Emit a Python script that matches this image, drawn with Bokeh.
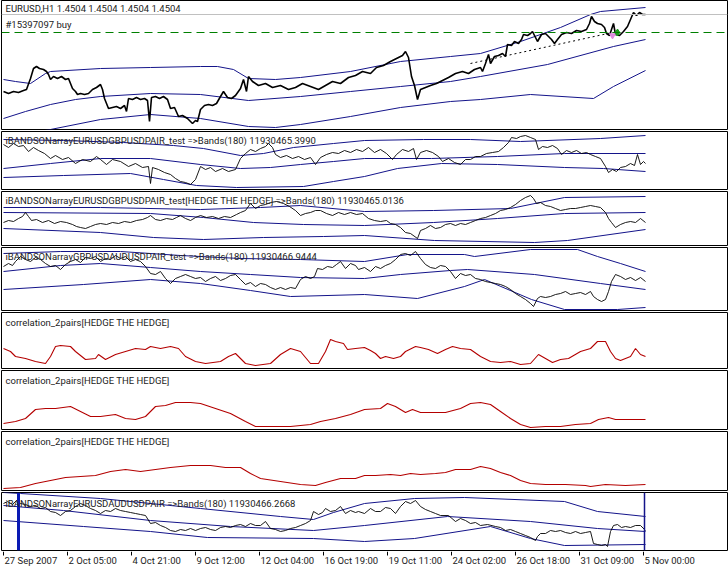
from bokeh.plotting import figure
from bokeh.layouts import column
from bokeh.models import Range1d, Label, Span
from bokeh.embed import file_html
from bokeh.resources import INLINE
from bokeh.core.properties import value

# ---------------- data (bar index = hourly bar, value = indicator units) -------------
tick_bars = [0, 64, 128, 192, 256, 320, 384, 448, 512, 576, 640]
tick_labels = ["27 Sep 2007", "2 Oct 05:00", "4 Oct 21:00", "9 Oct 12:00", "12 Oct 04:00",
               "16 Oct 19:00", "19 Oct 11:00", "24 Oct 02:00", "26 Oct 18:00",
               "31 Oct 09:00", "5 Nov 00:00"]

titles = ["EURUSD,H1  1.4504 1.4504 1.4504 1.4504",
          "iBANDSONarrayEURUSDGBPUSDPAIR_test  =>Bands(180) 11930465.3990",
          "iBANDSONarrayEURUSDGBPUSDPAIR_test[HEDGE THE HEDGE]  =>Bands(180) 11930465.0136",
          "iBANDSONarrayGBPUSDAUDUSDPAIR_test  =>Bands(180) 11930466.9444",
          "correlation_2pairs[HEDGE THE HEDGE]",
          "correlation_2pairs[HEDGE THE HEDGE]",
          "correlation_2pairs[HEDGE THE HEDGE]",
          "iBANDSONarrayEURUSDAUDUSDPAIR  =>Bands(180) 11930466.2668"]
order_text = "#15397097 buy"

# Panel 1: EURUSD H1 price and bands
p1_price = [(0,38),(5,36),(10,38),(15,37),(20,39),(23,40),(27,51),(30,61),(33,63),(36,61),(40,60),
            (43,58),(45,55),(47,50),(50,53),(54,51),(58,53),(62,50),(65,51),(69,41),(72,38),(74,35),
            (77,36),(81,35),(85,36),(89,40),(93,42),(97,45),(99,40),(101,31),(105,21),(109,22),(113,23),
            (117,21),(121,24),(123,18),(125,31),(129,30),(133,32),(137,30),(141,31),(144,29),(146,8),
            (148,32),(152,33),(156,31),(160,33),(164,30),(167,21),(171,22),(175,13),(179,14),(184,11),
            (187,8),(189,6),(192,9),(194,8),(197,20),(201,24),(205,25),(209,24),(213,26),(217,33),
            (220,38),(224,32),(228,31),(232,34),(237,41),(240,50),(243,38),(245,53),(249,48),(255,44),
            (262,46),(269,42),(277,44),(285,40),(292,42),(299,46),(307,43),(315,40),(322,44),(329,48),
            (337,46),(345,52),(352,54),(359,58),(367,56),(373,62),(380,64),(387,68),(393,71),(399,74),
            (402,78),(405,72),(408,53),(411,44),(414,30),(417,40),(422,42),(427,44),(433,46),(439,49),
            (445,52),(452,56),(459,58),(465,56),(471,60),(477,62),(479,58),(482,66),(485,75),(487,66),
            (491,73),(495,74),(499,76),(502,73),(504,85),(508,84),(511,88),(515,86),(518,90),(520,95),
            (524,94),(527,96),(529,98),(532,92),(534,88),(538,95),(542,96),(545,93),(548,90),(551,86),
            (554,90),(558,95),(563,97),(568,96),(573,99),(578,98),(583,100),(586,106),(588,113),
            (591,108),(594,106),(598,105),(601,102),(603,96),(606,94),(608,100),(610,106),(612,95),
            (616,94),(620,98),(624,103),(627,110),(630,117),(633,114),(636,117),(639,115),(642,115)]
p1_upper = [(0,50),(12,48),(27,46),(42,56),(47,58),(97,61),(147,62),(197,63),(214,63),(230,60),
            (245,51),(272,50),(297,52),(347,58),(397,68),(447,73),(477,76),(517,88),(557,102),
            (587,115),(597,118),(642,122)]
p1_middle = [(0,11),(22,18),(47,25),(72,30),(97,33),(147,36),(197,35),(245,29),(297,33),(347,38),
             (397,43),(447,48),(477,53),(544,65),(610,83),(642,90)]
p1_lower = [(0,-8),(47,0),(97,10),(147,15),(197,11),(245,3),(272,2),(297,5),(347,13),(397,22),
            (447,28),(477,30),(527,35),(590,31),(610,43),(642,59)]
p1_bid = 115
p1_order = 97
p1_trend = [(467,66),(609,97)]
p1_sell_mark = (609, 94)
p1_buy_mark = (614, 97)

# Panel 2
p2_price = [(0,45),(5,42),(10,46),(15,43),(20,44),(25,38),(30,42),(35,39),(41,36),(47,31),(52,34),
            (59,30),(65,32),(72,26),(79,30),(87,28),(93,33),(97,30),(103,25),(109,30),(117,28),
            (125,23),(132,26),(139,22),(145,23),(147,6),(149,22),(155,20),(161,17),(167,15),(172,11),
            (177,8),(182,7),(187,5),(192,10),(197,23),(202,20),(207,22),(212,18),(219,21),(225,18),
            (232,20),(237,31),(242,36),(247,40),(252,38),(257,41),(262,43),(265,46),(269,42),(272,35),
            (277,32),(283,34),(289,31),(295,33),(301,30),(307,32),(312,25),(317,32),(323,35),(329,37),
            (335,36),(341,39),(347,37),(353,40),(359,38),(365,42),(371,37),(377,40),(383,36),(389,30),
            (393,35),(399,40),(405,38),(410,41),(413,30),(417,37),(423,39),(429,37),(435,33),(439,28),
            (445,31),(451,27),(457,25),(462,30),(467,30),(472,33),(477,33),(483,36),(489,37),(495,38),
            (500,42),(505,47),(508,52),(513,51),(517,53),(522,54),(527,52),(532,50),(535,40),(539,43),
            (544,42),(549,44),(554,41),(558,35),(563,39),(568,37),(573,39),(578,36),(583,37),(587,35),
            (592,33),(597,31),(602,23),(605,17),(609,20),(613,18),(617,22),(622,23),(627,26),(631,24),
            (634,35),(637,25),(640,28),(642,26)]
p2_upper = [(0,50),(60,49),(120,47),(170,44),(200,41),(237,34),(260,36),(290,42),(330,46),(361,49),
            (420,50),(467,50),(517,48),(597,51),(642,54)]
p2_middle = [(0,21),(47,26),(97,31),(147,31),(197,25),(237,21),(267,22),(297,25),(330,28),(361,31),
             (428,31),(494,33),(561,36),(642,36)]
p2_lower = [(0,12),(60,14),(127,16),(160,10),(193,4),(233,2),(300,3),(330,8),(361,13),(394,21),
            (438,26),(494,25),(561,22),(600,21),(642,18)]

# Panel 3
p3_price = [(0,23),(5,25),(10,24),(15,27),(19,29),(22,33),(25,29),(28,25),(33,26),(39,23),(45,25),
            (51,22),(57,24),(63,23),(69,21),(73,19),(77,18),(82,17),(87,19),(92,21),(97,22),(103,21),
            (109,23),(115,22),(121,24),(127,23),(133,25),(139,26),(144,28),(147,30),(152,26),(157,25),
            (163,27),(169,26),(173,28),(177,30),(182,27),(187,25),(192,28),(197,30),(203,28),(209,29),
            (215,27),(221,29),(227,28),(233,31),(237,33),(242,35),(247,42),(252,37),(257,40),(262,41),
            (267,43),(273,44),(280,42),(286,39),(292,35),(297,30),(302,32),(307,33),(312,35),(317,35),
            (323,32),(329,30),(335,33),(341,31),(347,33),(353,31),(359,32),(365,27),(371,25),(377,24),
            (383,25),(387,22),(392,21),(397,18),(402,13),(407,12),(414,7),(417,15),(422,17),(427,20),
            (432,17),(437,18),(442,21),(447,22),(452,20),(457,22),(462,21),(467,23),(472,25),(477,27),
            (482,28),(487,30),(492,32),(497,35),(502,36),(507,38),(512,41),(517,45),(522,48),(527,50),
            (530,47),(533,42),(537,43),(542,40),(547,39),(552,37),(557,35),(562,36),(567,37),(572,37),
            (577,38),(582,39),(587,40),(592,39),(597,38),(602,33),(605,27),(608,23),(612,18),(617,21),
            (622,23),(627,24),(632,23),(637,27),(642,23)]
p3_upper = [(0,38),(97,38),(197,36),(257,38),(297,40),(361,34),(430,35),(507,37),(561,48),(642,49)]
p3_middle = [(0,33),(147,32),(200,28),(250,23),(300,21),(361,20),(430,23),(494,27),(561,32),(642,33)]
p3_lower = [(0,17),(97,13),(150,8),(200,6),(260,8),(320,9),(361,10),(431,5),(531,3),(564,5),(642,16)]

# Panel 4
p4_price = [(0,44),(5,47),(9,45),(12,49),(17,54),(22,51),(27,49),(32,53),(37,51),(42,47),(47,44),
            (52,45),(57,41),(62,46),(67,49),(72,51),(77,48),(82,53),(87,52),(92,54),(97,49),(102,52),
            (107,51),(112,55),(117,52),(122,54),(127,49),(132,51),(137,49),(142,44),(147,37),(152,36),
            (157,39),(162,32),(167,27),(172,32),(177,34),(182,36),(187,34),(192,32),(197,33),(202,29),
            (207,32),(212,34),(217,30),(222,32),(227,35),(232,36),(237,31),(242,26),(247,28),(252,24),
            (257,27),(262,26),(267,23),(272,21),(277,23),(282,21),(287,23),(292,22),(297,31),(302,34),
            (307,32),(311,34),(314,42),(319,41),(324,44),(329,43),(333,46),(337,49),(342,42),(347,47),
            (352,45),(355,41),(361,43),(367,39),(372,44),(377,42),(382,45),(387,47),(392,51),(397,56),
            (402,57),(407,55),(412,59),(417,52),(422,46),(427,43),(432,42),(437,45),(442,44),(447,39),
            (452,32),(457,37),(462,35),(467,36),(472,32),(477,31),(482,29),(487,28),(492,27),(497,26),
            (502,24),(507,21),(512,17),(517,14),(522,11),(527,7),(530,4),(534,12),(537,14),(542,13),
            (547,14),(552,16),(557,17),(562,19),(567,16),(572,17),(577,18),(582,16),(587,19),(590,14),
            (594,11),(598,9),(602,11),(605,19),(608,29),(612,36),(617,34),(622,31),(627,33),(632,30),
            (637,33),(642,29)]
p4_upper = [(0,57),(57,59),(117,59),(177,55),(237,52),(297,51),(361,49),(404,56),(461,56),(471,54),
            (527,61),(574,61),(594,54),(617,47),(642,39)]
p4_middle = [(0,39),(57,45),(97,47),(147,43),(197,39),(247,36),(297,33),(361,32),(397,36),(447,40),
             (464,41),(531,36),(597,27),(642,21)]
p4_lower = [(0,21),(80,26),(147,31),(197,27),(247,20),(287,14),(361,16),(414,12),(461,24),(481,31),
            (528,11),(561,1),(614,1),(642,3)]

# Panels 5-7: correlation_2pairs
p5_corr = [(0,20),(7,17),(12,12),(22,10),(32,7),(42,5),(47,12),(52,22),(57,23),(67,22),(72,17),
           (82,9),(92,10),(95,14),(102,9),(112,14),(122,17),(132,20),(142,19),(147,22),(157,20),
           (167,22),(175,20),(182,12),(192,7),(202,5),(217,7),(225,12),(232,15),(237,10),(242,5),
           (252,3),(267,5),(277,14),(287,20),(297,17),(307,5),(315,5),(322,17),(327,29),(332,27),
           (340,25),(344,19),(352,20),(361,21),(367,18),(372,15),(377,10),(382,12),(390,10),(397,12),
           (402,17),(412,22),(417,21),(425,19),(434,15),(442,19),(449,22),(457,20),(467,19),(477,12),
           (487,7),(497,6),(507,7),(517,4),(527,5),(535,14),(542,10),(549,6),(557,9),(565,10),(577,17),
           (587,20),(594,27),(602,27),(607,17),(612,10),(617,8),(627,12),(632,20),(637,14),(642,12)]
p6_corr = [(0,6),(12,8),(22,11),(32,20),(42,21),(52,21),(67,23),(77,18),(87,13),(97,13),(112,15),
           (122,11),(132,10),(142,13),(152,23),(162,24),(172,27),(187,27),(197,26),(212,21),(227,16),
           (242,8),(252,3),(267,3),(287,3),(307,5),(317,8),(332,11),(347,15),(361,20),(377,21),(384,26),
           (392,23),(402,17),(409,20),(417,17),(442,17),(457,21),(467,26),(477,27),(487,25),(497,18),
           (507,11),(517,5),(527,2),(542,3),(557,3),(572,5),(587,6),(595,10),(605,12),(612,10),(627,10),
           (642,10)]
p7_corr = [(0,2),(17,3),(32,7),(47,10),(62,13),(77,14),(92,15),(107,19),(122,21),(137,19),(152,21),
           (167,23),(187,25),(207,25),(222,23),(237,23),(247,17),(257,12),(277,9),(297,6),(312,5),
           (322,8),(337,12),(352,12),(361,15),(372,15),(387,16),(397,15),(407,17),(417,16),(432,17),
           (442,18),(452,21),(467,21),(477,24),(487,22),(497,18),(507,15),(517,10),(527,7),(542,6),
           (562,6),(582,5),(587,4),(602,6),(622,5),(642,6)]

# Panel 8
p8_price = [(0,47),(4,49),(9,46),(13,50),(17,47),(22,46),(27,44),(32,45),(37,42),(42,43),(47,39),
            (52,38),(57,35),(62,39),(67,40),(72,44),(77,47),(82,45),(87,42),(92,40),(97,37),(102,40),
            (107,39),(112,42),(117,40),(122,39),(127,38),(132,37),(137,36),(142,35),(147,27),(152,28),
            (157,25),(162,23),(167,20),(172,19),(177,21),(182,20),(187,22),(192,20),(197,22),(202,23),
            (207,21),(212,20),(217,23),(222,24),(227,23),(232,25),(237,26),(242,24),(247,27),(252,25),
            (257,25),(262,29),(267,22),(272,21),(277,19),(282,20),(287,22),(292,23),(297,25),(302,27),
            (307,30),(310,39),(315,36),(319,38),(322,42),(327,39),(332,40),(337,44),(342,37),(347,40),
            (352,38),(355,39),(361,37),(367,42),(372,39),(377,39),(382,43),(387,42),(392,37),(397,44),
            (402,49),(407,47),(412,50),(417,44),(422,41),(427,39),(432,37),(437,35),(445,35),(452,29),
            (457,32),(462,30),(467,27),(472,28),(477,25),(484,26),(492,24),(497,23),(502,20),(507,21),
            (512,19),(517,17),(522,15),(527,13),(532,10),(534,14),(537,17),(542,17),(547,20),(552,19),
            (557,20),(562,18),(567,17),(572,19),(577,17),(582,18),(587,19),(590,7),(594,6),(598,5),
            (602,6),(604,4),(607,19),(610,25),(614,26),(618,23),(622,24),(627,23),(632,25),(637,25),
            (642,20)]
p8_upper = [(0,58),(17,57),(97,52),(197,42),(277,34),(310,31),(330,38),(361,47),(411,52),(461,53),
            (561,49),(594,39),(642,34)]
p8_middle = [(0,45),(60,40),(147,30),(227,24),(310,20),(361,25),(444,34),(527,29),(594,22),(642,19)]
p8_lower = [(0,30),(80,24),(147,19),(204,13),(310,12),(361,9),(411,12),(487,24),(527,12),(561,5),(642,6)]
p8_vlines = [15, 641]

# ---------------- drawing -------------
FONT = "Roboto"
FS = "9.5px"
BAND = "#14148a"
PRICE = "#000000"
RED = "#b40000"
W = 728
xr = Range1d(-2, 724)


def panel(h, top=1):
    fh = h - top - 1
    p = figure(width=W, height=h, x_range=xr, y_range=Range1d(0, fh),
               x_axis_type=None, y_axis_type=None, output_backend="svg",
               toolbar_location=None, min_border_left=1, min_border_right=1,
               min_border_top=top, min_border_bottom=1)
    p.grid.visible = False
    p.outline_line_color = "black"
    p.outline_line_alpha = 1.0
    p.outline_line_width = 1
    p.background_fill_color = "white"
    p.border_fill_color = "white"
    return p, fh


def series(p, pts, color, width=1.0, dash="solid"):
    p.line(x=[b for b, _ in pts], y=[v for _, v in pts], line_color=color,
           line_width=width, line_dash=dash)


def title(p, fh, text, dy=8):
    p.add_layout(Label(x=4, y=fh - dy, x_units="screen", y_units="screen", text=text,
                       text_font=FONT, text_font_size=FS, text_color="#222222",
                       text_baseline="middle"))


heights = [130, 60, 56, 65, 58, 61, 61, 60]
figs = []

# panel 1
p, fh = panel(heights[0], top=0)
p.add_layout(Span(location=p1_bid, dimension="width", line_color="#c0c0c0", line_width=1))
p.add_layout(Span(location=p1_order, dimension="width", line_color="#008000", line_width=1,
                  line_dash="8 5"))
for s in (p1_upper, p1_middle, p1_lower):
    series(p, s, BAND)
series(p, p1_trend, "#000000", 1, "2 3")
series(p, p1_price, PRICE, 1.6)
p.scatter(x=[p1_sell_mark[0]], y=[p1_sell_mark[1]], marker="inverted_triangle", size=6,
          color="#e08ce0")
p.scatter(x=[p1_buy_mark[0]], y=[p1_buy_mark[1]], marker="diamond", size=7, color="#1a9a1a")
title(p, fh, titles[0], 8)
title(p, fh, order_text, 24)
figs.append(p)

band_sets = {1: (p2_price, p2_upper, p2_middle, p2_lower),
             2: (p3_price, p3_upper, p3_middle, p3_lower),
             3: (p4_price, p4_upper, p4_middle, p4_lower)}
for i in (1, 2, 3):
    p, fh = panel(heights[i])
    pr, up, mi, lo = band_sets[i]
    for s in (up, mi, lo):
        series(p, s, BAND)
    series(p, pr, PRICE, 0.9)
    title(p, fh, titles[i], 9)
    figs.append(p)

for i, corr in zip((4, 5, 6), (p5_corr, p6_corr, p7_corr)):
    p, fh = panel(heights[i])
    series(p, corr, RED, 1.1)
    title(p, fh, titles[i], 10)
    figs.append(p)

p, fh = panel(heights[7])
for s in (p8_upper, p8_middle, p8_lower):
    series(p, s, BAND)
series(p, p8_price, PRICE, 0.9)
p.add_layout(Span(location=p8_vlines[0], dimension="height", line_color="#0a1ab4", line_width=3))
p.add_layout(Span(location=p8_vlines[1], dimension="height", line_color="#14148a", line_width=1.5))
title(p, fh, titles[7], 11)
figs.append(p)

# time axis strip
ax = figure(width=W, height=20, x_range=xr, y_range=Range1d(0, 20), x_axis_type=None,
            y_axis_type=None, output_backend="svg", toolbar_location=None,
            min_border_left=1, min_border_right=1, min_border_top=0, min_border_bottom=0)
ax.grid.visible = False
ax.outline_line_color = None
ax.segment(x0=tick_bars, y0=20, x1=tick_bars, y1=16, line_color="black", line_width=1)
ax.text(x=tick_bars, y=11, text=tick_labels, text_font=value(FONT), text_font_size=value(FS),
        text_align="left", text_baseline="middle", x_offset=1, text_color="#222222")
figs.append(ax)

layout = column(*figs, spacing=0)
open("out.html", "w").write(file_html(layout, INLINE))
